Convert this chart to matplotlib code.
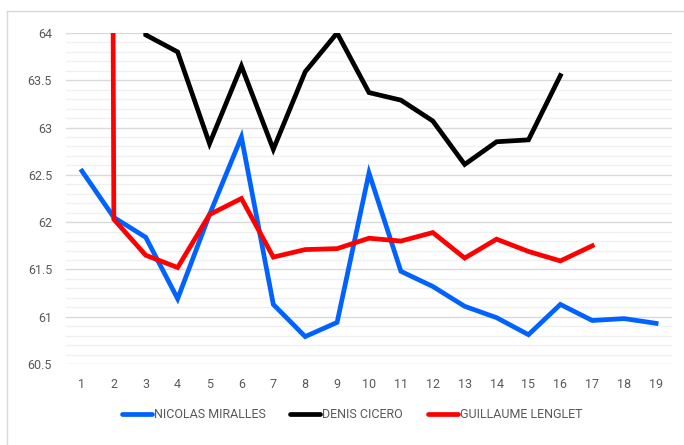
import matplotlib.pyplot as plt
from matplotlib.lines import Line2D
import numpy as np

plt.rcParams['font.family'] = ['Liberation Sans Narrow', 'Roboto', 'DejaVu Sans']

x = list(range(1, 20))
nicolas = [62.54, 62.05, 61.84, 61.19, 62.08, 62.90, 61.13, 60.79, 60.94, 62.52,
           61.48, 61.32, 61.11, 60.99, 60.81, 61.13, 60.96, 60.98, 60.93]
denis = [130.0, 125.0, 63.98, 63.80, 62.83, 63.65, 62.77, 63.59, 64.00, 63.37,
         63.29, 63.07, 62.61, 62.85, 62.87, 63.55]
guillaume = [150.0, 62.03, 61.65, 61.52, 62.08, 62.25, 61.63, 61.71, 61.72, 61.83,
             61.80, 61.89, 61.62, 61.82, 61.69, 61.59, 61.75]
names = ['NICOLAS MIRALLES', 'DENIS CICERO', 'GUILLAUME LENGLET']
colors = ['#0062ff', '#000000', '#ff0000']

fig = plt.figure(figsize=(6.84, 4.45), dpi=100)
ax = fig.add_axes([66/684, 1-364/445, (672-66)/684, (364-33)/445])

for vals, c, n in zip([nicolas, denis, guillaume], colors, names):
    ax.plot(x[:len(vals)], vals, color=c, lw=3.4, label=n,
            solid_joinstyle='miter', zorder=3)

ax.set_xlim(0.5, 19.5)
ax.set_ylim(60.5, 64)
ax.set_xticks(x)
ax.set_yticks(np.arange(60.5, 64.01, 0.5))
ax.set_yticklabels(['60.5', '61', '61.5', '62', '62.5', '63', '63.5', '64'])
ax.set_yticks(np.arange(60.5, 64.01, 0.1), minor=True)
ax.grid(axis='y', which='major', color='#d9d9d9', lw=1.0, zorder=1)
ax.grid(axis='y', which='minor', color='#f0f0f0', lw=1.0, zorder=0)
ax.tick_params(axis='both', which='both', length=0, colors='#595959', labelsize=9)
ax.tick_params(axis='y', pad=10)
ax.tick_params(axis='x', pad=10)
for s in ax.spines.values():
    s.set_visible(False)

# chart border (top and left visible)
fig.add_artist(Line2D([7/684, 7/684], [0, 1-11/445], transform=fig.transFigure,
                      color='#d9d9d9', lw=1))
fig.add_artist(Line2D([7/684, 1], [1-11/445, 1-11/445], transform=fig.transFigure,
                      color='#d9d9d9', lw=1))

handles = [Line2D([], [], color=c, lw=3.4, solid_capstyle='round') for c in colors]
fig.legend(handles, names, loc='center', bbox_to_anchor=(352/684, 1-415/445), ncol=3,
           frameon=False, fontsize=9, handlelength=2.4, handletextpad=0.15,
           columnspacing=2.0, labelcolor='#595959')

fig.savefig('out.png', dpi=100)
